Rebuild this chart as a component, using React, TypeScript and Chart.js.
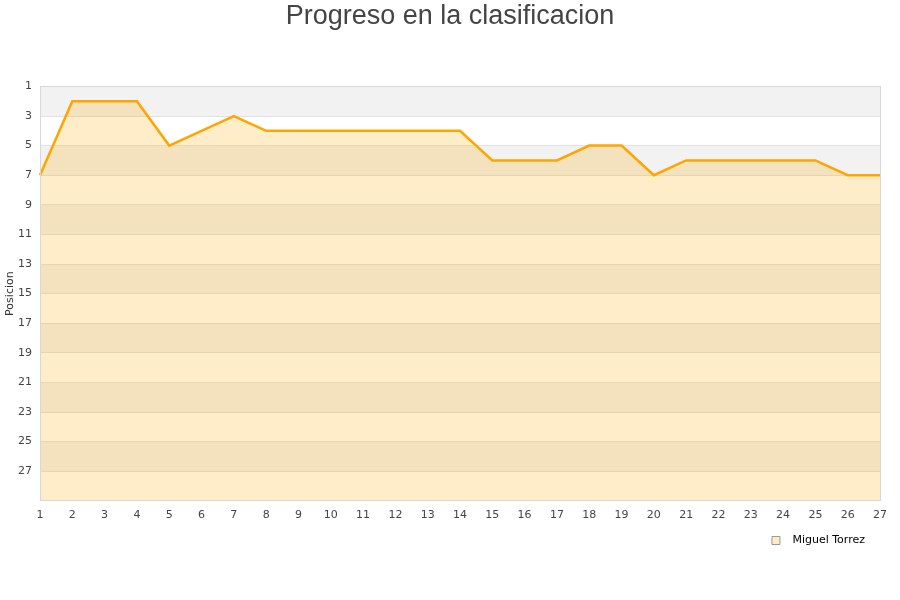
import React, { useEffect, useRef } from "react";
import { Chart, registerables } from "chart.js";

Chart.register(...registerables);

const rounds = ["1","2","3","4","5","6","7","8","9","10","11","12","13","14","15","16","17","18","19","20","21","22","23","24","25","26","27"];
const positions = [7,2,2,2,5,4,3,4,4,4,4,4,4,4,6,6,6,5,5,7,6,6,6,6,6,7,7];
const seriesName = "Miguel Torrez";
const chartTitle = "Progreso en la clasificacion";
const yTitle = "Posicion";
const yMin = 1;
const yMax = 29;

const bandsPlugin = {
  id: "bands",
  afterLayout(chart: any) {
    if (chart.titleBlock) {
      chart.titleBlock.left = 0;
      chart.titleBlock.right = chart.width;
    }
  },
  beforeDraw(chart: any) {
    const { ctx, chartArea } = chart;
    const y = chart.scales.y;
    ctx.save();
    ctx.fillStyle = "#ffffff";
    ctx.fillRect(chartArea.left, chartArea.top, chartArea.right - chartArea.left, chartArea.bottom - chartArea.top);
    ctx.fillStyle = "#f2f2f2";
    for (let v = yMin; v < yMax; v += 4) {
      const a = y.getPixelForValue(v);
      const b = y.getPixelForValue(Math.min(v + 2, yMax));
      ctx.fillRect(chartArea.left, a, chartArea.right - chartArea.left, b - a);
    }
    ctx.restore();
  },
  afterDraw(chart: any) {
    const { ctx, chartArea } = chart;
    ctx.save();
    ctx.strokeStyle = "#d8d8d8";
    ctx.lineWidth = 1;
    ctx.strokeRect(Math.round(chartArea.left) + 0.5, Math.round(chartArea.top) + 0.5, Math.round(chartArea.right - chartArea.left), Math.round(chartArea.bottom - chartArea.top));
    ctx.restore();
  },
};

export default function App() {
  const ref = useRef<HTMLCanvasElement>(null);
  useEffect(() => {
    document.body.style.margin = "0";
    const chart = new Chart(ref.current!, {
      type: "line",
      data: {
        labels: rounds,
        datasets: [
          {
            label: seriesName,
            data: positions,
            borderColor: "#ffa500",
            backgroundColor: "rgba(255,165,0,0.21)",
            borderWidth: 2.5,
            fill: { value: yMax },
            pointRadius: 0,
            tension: 0,
          },
        ],
      },
      options: {
        animation: false,
        responsive: false,
        layout: { padding: { left: 0, right: 20, top: 0, bottom: 44 } },
        plugins: {
          title: {
            display: true,
            text: chartTitle,
            color: "#444444",
            font: { family: "Liberation Sans", size: 27, weight: "normal" },
            padding: { top: 0, bottom: 54 },
          },
          legend: {
            position: "bottom",
            align: "end",
            labels: {
              boxWidth: 8,
              boxHeight: 8,
              padding: 15,
              color: "#222",
              font: { family: "DejaVu Sans", size: 11 },
              generateLabels: () => [
                {
                  text: "  " + seriesName,
                  fillStyle: "#ffecc9",
                  strokeStyle: "#999999",
                  lineWidth: 1,
                  hidden: false,
                  datasetIndex: 0,
                } as any,
              ],
            },
          },
          tooltip: { enabled: false },
        },
        scales: {
          x: {
            type: "category",
            offset: false,
            grid: { display: false, drawTicks: false },
            border: { display: false },
            afterFit(scale: any) {
              scale.height = scale.height - 10;
            },
            ticks: {
              color: "#444",
              font: { family: "DejaVu Sans", size: 11 },
              padding: 8,
              autoSkip: false,
              maxRotation: 0,
            },
          },
          y: {
            reverse: true,
            min: yMin,
            max: yMax,
            afterFit(scale: any) {
              scale.width = 40;
            },
            title: {
              display: true,
              text: yTitle,
              color: "#333",
              font: { family: "DejaVu Sans", size: 11 },
              padding: { top: 4, bottom: 0 },
            },
            grid: { color: "#e2e2e2", drawTicks: false },
            border: { display: false },
            ticks: {
              stepSize: 2,
              color: "#444",
              font: { family: "DejaVu Sans", size: 11 },
              padding: 8,
              callback: (v: any) => (v === yMax ? "" : String(v)),
            },
          },
        },
      },
      plugins: [bandsPlugin],
    });
    return () => chart.destroy();
  }, []);
  return (
    <div style={{ width: 900, height: 600 }}>
      <canvas ref={ref} width={900} height={600} style={{ display: "block" }} />
    </div>
  );
}
